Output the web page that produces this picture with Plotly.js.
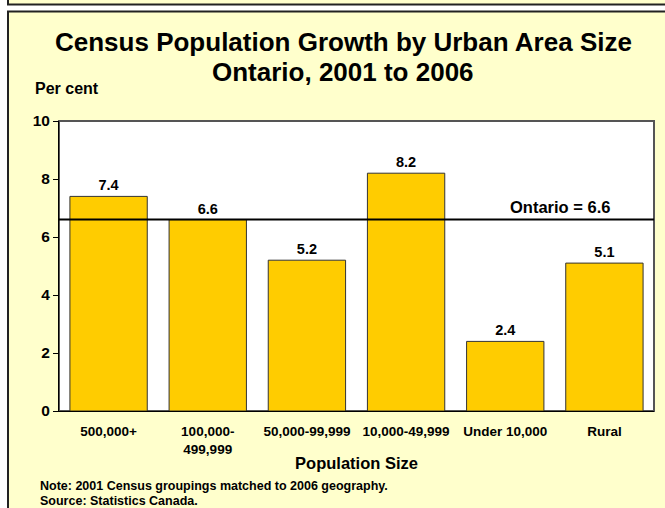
<!DOCTYPE html>
<html>
<head>
<meta charset="utf-8">
<script src="https://cdn.plot.ly/plotly-3.0.1.min.js"></script>
<style>html,body{margin:0;padding:0;background:#fff;}#chart{width:665px;height:508px;}</style>
</head>
<body>
<div id="chart"></div>
<script>
const categories = ["500,000+", "100,000-<br>499,999", "50,000-99,999", "10,000-49,999", "Under 10,000", "Rural"];
const growth = [7.4, 6.6, 5.2, 8.2, 2.4, 5.1];
const valueLabels = ["7.4", "6.6", "5.2", "8.2", "2.4", "5.1"];
const ontarioAverage = 6.6;
const yTicks = [0, 2, 4, 6, 8, 10];

const FONT = "Liberation Sans, Arial, sans-serif";
const W = 665, H = 508, L = 59, R = 11, T = 121, B = 97;
const pw = W - L - R, ph = H - T - B;
const px = v => (v - L) / pw;
const py = v => (H - B - v) / ph;

const trace = {
  type: "bar",
  x: categories,
  y: growth,
  text: valueLabels,
  texttemplate: "<b>%{text}</b>",
  textposition: "outside",
  textfont: {family: FONT, size: 14.5, color: "#000", weight: "bold"},
  cliponaxis: false,
  marker: {color: "#FFCC00", line: {color: "#333333", width: 1}},
  hoverinfo: "x+y"
};

const layout = {
  width: W, height: H,
  margin: {l: L, r: R, t: T, b: B, pad: 0},
  paper_bgcolor: "#ffffff",
  plot_bgcolor: "rgba(0,0,0,0)",
  font: {family: FONT, color: "#000", weight: "bold"},
  showlegend: false,
  bargap: 0.22,
  xaxis: {
    type: "category",
    showline: true, linecolor: "#000", linewidth: 1,
    ticks: "", showgrid: false, zeroline: false,
    ticklabelstandoff: 8,
    tickfont: {family: FONT, size: 13.5, weight: "bold"},
    title: {text: "<b>Population Size</b>", font: {family: FONT, size: 16.5, weight: "bold"}, standoff: 1}
  },
  yaxis: {
    range: [0, 10],
    tickvals: yTicks,
    ticktext: yTicks.map(v => "<b>" + v + "</b>"),
    showline: true, linecolor: "#000", linewidth: 1,
    ticks: "outside", ticklen: 5, tickcolor: "#000",
    showgrid: false, zeroline: false,
    tickfont: {family: FONT, size: 15.5, weight: "bold"}
  },
  shapes: [
    {type: "rect", xref: "paper", yref: "paper", layer: "below",
     x0: px(8), x1: px(700), y0: py(-10), y1: py(4.5),
     fillcolor: "#FFFFCC", line: {color: "#222", width: 2}},
    {type: "rect", xref: "paper", yref: "paper", layer: "below",
     x0: px(8), x1: px(700), y0: py(560), y1: py(11.5),
     fillcolor: "#FFFFCC", line: {color: "#222", width: 2}},
    {type: "rect", xref: "paper", yref: "paper", layer: "below",
     x0: 0, x1: 1, y0: 0, y1: 1,
     fillcolor: "#ffffff", line: {color: "#555555", width: 2}},
    {type: "line", xref: "paper", yref: "y", layer: "above",
     x0: 0, x1: 1, y0: ontarioAverage, y1: ontarioAverage,
     line: {color: "#000", width: 2}}
  ],
  annotations: [
    {xref: "paper", yref: "paper", x: px(343), y: py(42), xanchor: "center", yanchor: "middle",
     text: "<b>Census Population Growth by Urban Area Size</b>",
     showarrow: false, font: {family: FONT, size: 26, color: "#000"}},
    {xref: "paper", yref: "paper", x: px(343), y: py(72), xanchor: "center", yanchor: "middle",
     text: "<b>Ontario, 2001 to 2006</b>",
     showarrow: false, font: {family: FONT, size: 26, color: "#000"}},
    {xref: "paper", yref: "paper", x: px(33), y: py(88), xanchor: "left", yanchor: "middle",
     text: "<b>Per cent</b>", showarrow: false, font: {family: FONT, size: 16}},
    {xref: "paper", yref: "y", x: px(612), y: ontarioAverage, yshift: 2, xanchor: "right", yanchor: "bottom",
     text: "<b>Ontario = " + ontarioAverage + "</b>", showarrow: false, font: {family: FONT, size: 16.5}},
    {xref: "paper", yref: "paper", x: px(38), y: py(486), xanchor: "left", yanchor: "middle",
     text: "<b>Note: 2001 Census groupings matched to 2006 geography.</b>", showarrow: false,
     font: {family: FONT, size: 12.5}},
    {xref: "paper", yref: "paper", x: px(38), y: py(500.5), xanchor: "left", yanchor: "middle",
     text: "<b>Source: Statistics Canada.</b>", showarrow: false,
     font: {family: FONT, size: 12.5}}
  ]
};

Plotly.newPlot("chart", [trace], layout, {displayModeBar: false, staticPlot: true});
</script>
</body>
</html>
